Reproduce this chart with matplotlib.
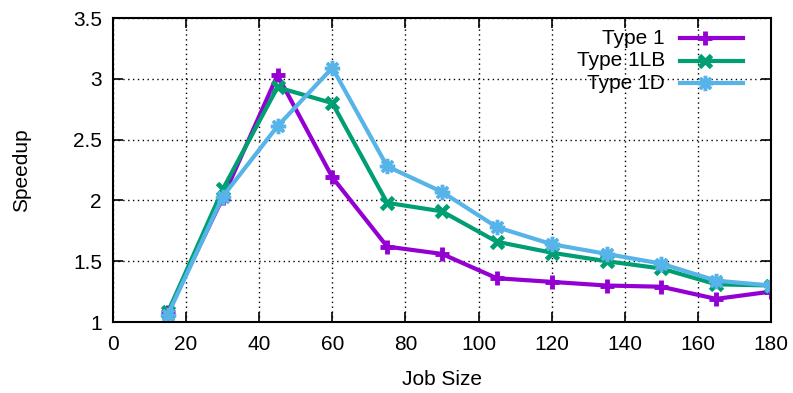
import matplotlib.pyplot as plt
from matplotlib.lines import Line2D

plt.rcParams["font.family"] = ["Liberation Sans", "DejaVu Sans"]

job_size = [15, 30, 45, 60, 75, 90, 105, 120, 135, 150, 165, 180]
type1 = [1.08, 2.02, 3.03, 2.19, 1.62, 1.56, 1.36, 1.33, 1.30, 1.29, 1.19, 1.25]
type1lb = [1.08, 2.09, 2.93, 2.80, 1.98, 1.91, 1.66, 1.57, 1.50, 1.44, 1.31, 1.30]
type1d = [1.06, 2.03, 2.61, 3.09, 2.28, 2.07, 1.78, 1.64, 1.56, 1.48, 1.34, 1.30]

series = [
    ("Type 1", type1, "#9400D3", "+", 10, 3.5),
    ("Type 1LB", type1lb, "#009E73", "x", 8, 3.5),
    ("Type 1D", type1d, "#56B4E9", (8, 2, 0), 11, 2.5),
]

fig = plt.figure(figsize=(7.93, 3.93), dpi=100)
ax = fig.add_axes([113 / 793, 1 - 322 / 393, 658 / 793, 304 / 393])

for label, ys, color, marker, ms, mew in series:
    ax.plot(job_size, ys, color=color, lw=3, marker=marker, ms=ms, mew=mew)

ax.set_xlim(0, 180)
ax.set_ylim(1, 3.5)
ax.set_xticks(range(0, 181, 20))
ax.set_yticks([1, 1.5, 2, 2.5, 3, 3.5])
ax.set_yticklabels(["1", "1.5", "2", "2.5", "3", "3.5"])
ax.grid(True, color="black", linestyle=(0, (1, 2.5)), lw=1)
ax.tick_params(direction="in", length=7, width=1.2, top=True, right=True,
               labelsize=15)
ax.tick_params(axis="x", pad=9)
ax.tick_params(axis="y", pad=8)
for sp in ax.spines.values():
    sp.set_linewidth(1.5)
ax.set_xlabel("Job Size", fontsize=15, labelpad=12)
ax.set_ylabel("Speedup", fontsize=15, labelpad=30)

# key in the upper right, text right-aligned before the sample line
for i, (label, ys, color, marker, ms, mew) in enumerate(series):
    y = 0.933 - i * 0.074
    ax.add_line(Line2D([0.861, 0.958], [y, y], transform=ax.transAxes,
                       color=color, lw=3))
    ax.add_line(Line2D([0.9], [y], transform=ax.transAxes, color=color,
                       marker=marker, ms=ms, mew=mew))
    ax.text(0.839, y, label, transform=ax.transAxes, ha="right", va="center",
            fontsize=15)

fig.savefig("out.png", dpi=100)
